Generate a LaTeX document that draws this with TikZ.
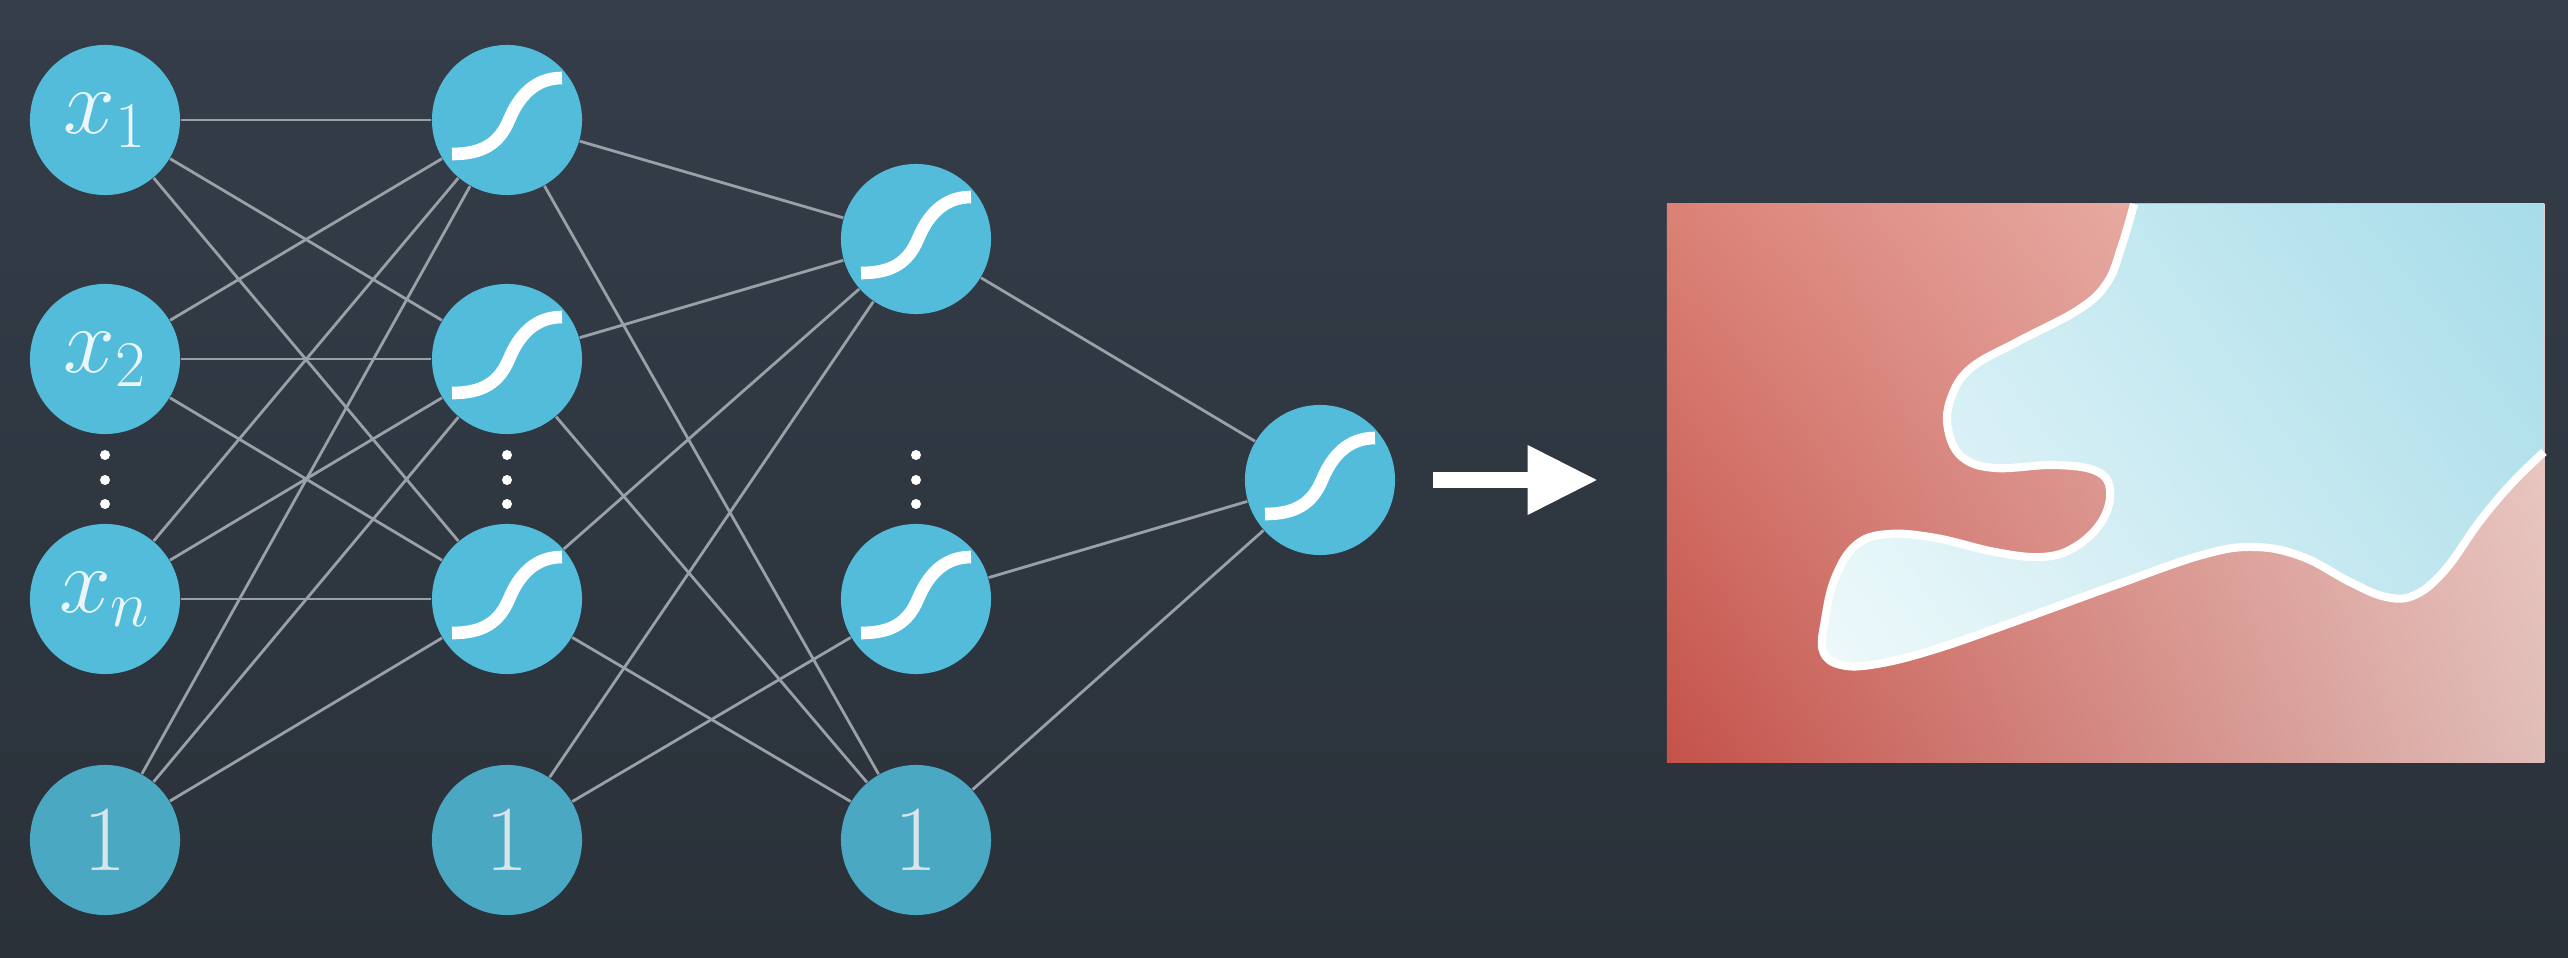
\RequirePackage{fix-cm}
\documentclass[tikz,border=0pt]{standalone}
\usetikzlibrary{arrows.meta,shadings}

\definecolor{bgtop}{HTML}{343D49}
\definecolor{bgbot}{HTML}{2A3139}
\definecolor{unitfill}{HTML}{53BCDA}
\definecolor{biasfill}{HTML}{4AA8C3}
\definecolor{wirecol}{HTML}{9AA0A8}
\definecolor{labeltext}{HTML}{EAF6FA}
\definecolor{biastext}{HTML}{D8E5E9}
% class colours of the decision map
\definecolor{redLL}{HTML}{C4524A}
\definecolor{redUL}{HTML}{DB8176}
\definecolor{redUR}{HTML}{F0CDC8}
\definecolor{redLR}{HTML}{E0BDB8}
\definecolor{blueLL}{HTML}{EEF9FB}
\definecolor{blueUL}{HTML}{D6F0F5}
\definecolor{blueUR}{HTML}{A6DCE9}
\definecolor{blueLR}{HTML}{BEE5EE}

\begin{document}
\begin{tikzpicture}[x=0.01cm, y=-0.01cm,
  neuron/.style={circle, fill=unitfill, minimum size=1.5cm, inner sep=0pt,
    text=labeltext, font=\fontsize{26.5}{32}\selectfont},
  bias/.style={neuron, fill=biasfill, text=biastext},
  wire/.style={draw=wirecol, line width=0.8pt},
  sigmoid/.style={draw=white, line width=3.6pt},
  boundary/.style={draw=white, line width=2.3pt},
  bigarrow/.style={draw=white, line width=4.8pt, shorten <=0.37cm, shorten >=0.70cm,
    -{Triangle[length=0.69cm, width=0.70cm, line width=0pt]}}
]
% backdrop
\shade[top color=bgtop, bottom color=bgbot] (0,0) rectangle (2568,958);
\useasboundingbox (0,0) rectangle (2568,958);

% input layer
\node[neuron] (x1) at (105,120) {$x_1$};
\node[neuron] (x2) at (105,359) {$x_2$};
\node[neuron] (xn) at (105,599) {$x_n$};
\node[bias]   (b1) at (105,840) {$1$};
% first hidden layer
\node[neuron] (h1) at (507,120) {};
\node[neuron] (h2) at (507,359) {};
\node[neuron] (hn) at (507,599) {};
\node[bias]   (b2) at (507,840) {$1$};
% second hidden layer
\node[neuron] (g1) at (916,239) {};
\node[neuron] (gm) at (916,599) {};
\node[bias]   (b3) at (916,840) {$1$};
% output unit
\node[neuron] (out) at (1320,480) {};

% weights
\foreach \a in {x1,x2,xn,b1}
  \foreach \b in {h1,h2,hn}
    \draw[wire] (\a) -- (\b);
\foreach \a in {h1,h2,hn}
  \foreach \b in {g1,b3}
    \draw[wire] (\a) -- (\b);
\draw[wire] (b2) -- (g1);
\draw[wire] (b2) -- (gm);
\foreach \a in {g1,gm,b3}
  \draw[wire] (\a) -- (out);

% sigmoid glyphs
\foreach \n in {h1,h2,hn,g1,gm,out}
  \draw[sigmoid, shift={(\n.center)}]
    (-55,34) .. controls (-25,34) and (-8,24) .. (2,0)
             .. controls (12,-24) and (28,-42) .. (55,-42);

% vertical ellipses
\foreach \c in {105,507,916}
  \foreach \y in {455,480,504}
    \fill[white] (\c,\y) circle[radius=0.05cm];

% decision map
\node[minimum width=8.77cm, minimum height=5.58cm, inner sep=0pt, outer sep=0pt] (region) at (2105.5,483) {};
\shade[lower left=redLL, upper left=redUL, upper right=redUR, lower right=redLR]
  (region.south west) rectangle (region.north east);
\shade[lower left=blueLL, upper left=blueUL, upper right=blueUR, lower right=blueLR]
  plot[smooth, tension=0.65] coordinates {
    (2134,204) (2122,245) (2107,283) (2078,310) (2019,341) (1971,368) (1951,398)
    (1948,429) (1962,457) (1995,468) (2054,465) (2096,471) (2110,490) (2102,521)
    (2075,547) (2042,557) (1995,552) (1936,538) (1888,534) (1856,545) (1835,578)
    (1825,620) (1823,651) (1841,665) (1877,664) (1936,649) (2025,618) (2113,586)
    (2202,555) (2255,547) (2303,557) (2350,582) (2386,597) (2415,595) (2445,570)
    (2480,521) (2513,482) (2544,452)}
  -- (2544,204) -- cycle;
\draw[boundary]
  plot[smooth, tension=0.65] coordinates {
    (2134,204) (2122,245) (2107,283) (2078,310) (2019,341) (1971,368) (1951,398)
    (1948,429) (1962,457) (1995,468) (2054,465) (2096,471) (2110,490) (2102,521)
    (2075,547) (2042,557) (1995,552) (1936,538) (1888,534) (1856,545) (1835,578)
    (1825,620) (1823,651) (1841,665) (1877,664) (1936,649) (2025,618) (2113,586)
    (2202,555) (2255,547) (2303,557) (2350,582) (2386,597) (2415,595) (2445,570)
    (2480,521) (2513,482) (2544,452)};

% network output feeds the map
\draw[bigarrow] (out.east) -- (out.east -| region.west);
\end{tikzpicture}
\end{document}
